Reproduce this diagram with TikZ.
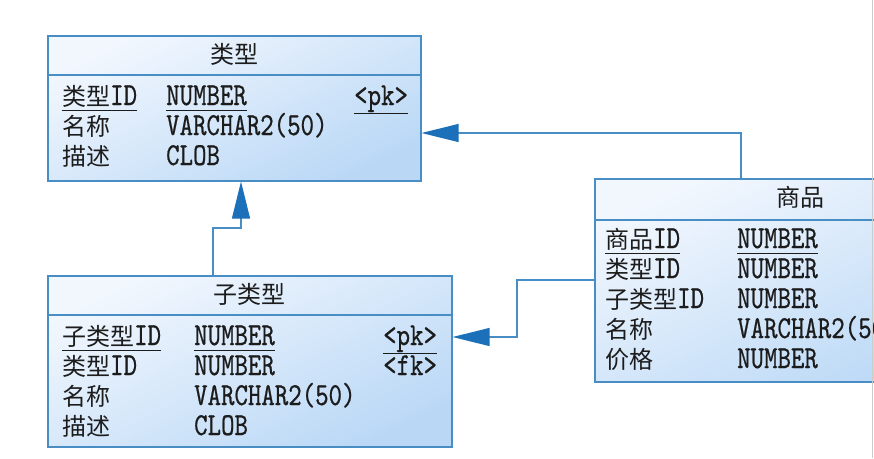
\documentclass[tikz,border=0pt]{standalone}
\usepackage{fontspec}
\setmonofont{lmmono10-regular.otf}[FakeStretch=0.8,FakeBold=0.6]
\newfontfamily\cjk{Noto Sans CJK SC}
\usepackage{tikz}
\usetikzlibrary{arrows.meta,positioning}

\definecolor{erline}{RGB}{72,142,196}
\definecolor{ertop}{RGB}{242,247,254}
\definecolor{erbot}{RGB}{186,216,246}
\definecolor{erarrow}{RGB}{28,112,186}
\definecolor{ertext}{RGB}{28,28,28}

\newcommand{\cn}[1]{{\cjk\fontsize{24}{30}\selectfont #1}}
\newcommand{\ul}[1]{\underline{\rule[-3.5pt]{0pt}{3.5pt}#1}}

\tikzset{
  erbox/.style={rectangle, draw=erline, line width=1.6pt, inner sep=0pt,
    anchor=north west, top color=ertop, bottom color=erbot, shading angle=25},
  title/.style={text=ertext, inner sep=0pt},
  field/.style={anchor=base west, inner sep=0pt, text=ertext,
    font=\ttfamily\fontsize{32}{30}\selectfont},
  fk/.style={draw=erline, line width=1.4pt,
    -{Triangle[length=37pt,width=18pt,fill=erarrow,color=erarrow]}}
}

\begin{document}
\begin{tikzpicture}[x=1pt,y=-1pt]
\useasboundingbox (0,0) rectangle (874,458);
\clip (0,0) rectangle (874,458);
\fill[white] (0,0) rectangle (874,458);

\node[erbox, minimum width=373pt, minimum height=145pt](type) at (47,35){};
\draw[erline, line width=1.4pt] ([yshift=-40pt]type.north west) -- ([yshift=-40pt]type.north east);
\node[title](typetitle) at ([yshift=-19pt]type.north){\cn{类型}};
\node[field](tid) at ([shift={(15pt,-70pt)}]type.north west){\ul{\cn{类型}ID}};
\node[field](tname) at ([shift={(15pt,-100pt)}]type.north west){\cn{名称}};
\node[field](tdesc) at ([shift={(15pt,-130pt)}]type.north west){\cn{描述}};
\node[field](tidtype) at ([shift={(119pt,-70pt)}]type.north west){\ul{NUMBER}};
\node[field](tnametype) at ([shift={(119pt,-100pt)}]type.north west){VARCHAR2(50)};
\node[field](tdesctype) at ([shift={(119pt,-130pt)}]type.north west){CLOB};
\node[field](tidkey) at ([shift={(307pt,-70pt)}]type.north west){\ul{<pk>}};

\node[erbox, minimum width=404pt, minimum height=171pt](sub) at (47,275){};
\draw[erline, line width=1.4pt] ([yshift=-40pt]sub.north west) -- ([yshift=-40pt]sub.north east);
\node[title](subtitle) at ([yshift=-19pt]sub.north){\cn{子类型}};
\node[field](sid) at ([shift={(15pt,-70pt)}]sub.north west){\ul{\cn{子类型}ID}};
\node[field](stid) at ([shift={(15pt,-100pt)}]sub.north west){\cn{类型}ID};
\node[field](sname) at ([shift={(15pt,-130pt)}]sub.north west){\cn{名称}};
\node[field](sdesc) at ([shift={(15pt,-160pt)}]sub.north west){\cn{描述}};
\node[field](sidtype) at ([shift={(147pt,-70pt)}]sub.north west){\ul{NUMBER}};
\node[field](stidtype) at ([shift={(147pt,-100pt)}]sub.north west){NUMBER};
\node[field](snametype) at ([shift={(147pt,-130pt)}]sub.north west){VARCHAR2(50)};
\node[field](sdesctype) at ([shift={(147pt,-160pt)}]sub.north west){CLOB};
\node[field](sidkey) at ([shift={(336pt,-70pt)}]sub.north west){\ul{<pk>}};
\node[field](stidkey) at ([shift={(336pt,-100pt)}]sub.north west){<fk>};

\node[erbox, minimum width=412pt, minimum height=203pt](goods) at (594,178){};
\draw[erline, line width=1.4pt] ([yshift=-42pt]goods.north west) -- ([yshift=-42pt]goods.north east);
\node[title](goodstitle) at ([yshift=-19pt]goods.north){\cn{商品}};
\node[field](gid) at ([shift={(11pt,-70pt)}]goods.north west){\ul{\cn{商品}ID}};
\node[field](gtid) at ([shift={(11pt,-100pt)}]goods.north west){\cn{类型}ID};
\node[field](gsid) at ([shift={(11pt,-130pt)}]goods.north west){\cn{子类型}ID};
\node[field](gname) at ([shift={(11pt,-160pt)}]goods.north west){\cn{名称}};
\node[field](gprice) at ([shift={(11pt,-190pt)}]goods.north west){\cn{价格}};
\node[field](gidtype) at ([shift={(143pt,-70pt)}]goods.north west){\ul{NUMBER}};
\node[field](gtidtype) at ([shift={(143pt,-100pt)}]goods.north west){NUMBER};
\node[field](gsidtype) at ([shift={(143pt,-130pt)}]goods.north west){NUMBER};
\node[field](gnametype) at ([shift={(143pt,-160pt)}]goods.north west){VARCHAR2(50)};
\node[field](gpricetype) at ([shift={(143pt,-190pt)}]goods.north west){NUMBER};

\draw[fk] ([xshift=147pt]goods.north west) |- ([yshift=-98pt]type.north east);
\draw[fk] ([xshift=166pt]sub.north west) -- ++(0,-47) -| ([xshift=194pt]type.south west);
\draw[fk] ([yshift=-102pt]goods.north west) -- ++(-77,0) |- ([yshift=-62pt]sub.north east);

\draw[black!20, line width=1pt] (872,0) -- (872,458);
\end{tikzpicture}
\end{document}
